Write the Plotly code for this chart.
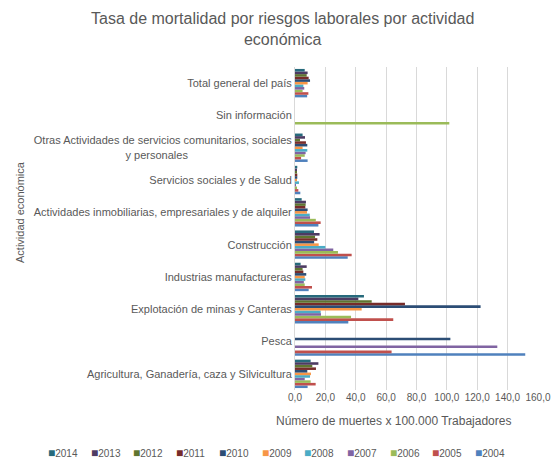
import plotly.graph_objects as go

categories = [
    "Agricultura, Ganadería, caza y Silvicultura",
    "Pesca",
    "Explotación de minas y Canteras",
    "Industrias manufactureras",
    "Construcción",
    "Actividades inmobiliarias, empresariales y de alquiler",
    "Servicios sociales y de Salud",
    "Otras Actividades de servicios comunitarios, sociales y personales",
    "Sin información",
    "Total general del país",
]

years = ["2004", "2005", "2006", "2007", "2008", "2009", "2010", "2011", "2012", "2013", "2014"]

v2004 = [8.3, 151.6, 35.1, 9.0, 34.7, 15.4, 3.5, 8.3, 0, 8.0]
v2005 = [13.6, 63.6, 64.7, 11.2, 37.3, 16.9, 2.2, 4.0, 0, 8.8]
v2006 = [10.3, 0, 36.9, 6.4, 28.3, 13.7, 1.3, 6.4, 101.6, 5.0]
v2007 = [6.4, 133.2, 17.1, 5.8, 25.2, 9.9, 0.4, 7.0, 0, 6.1]
v2008 = [9.9, 0, 16.9, 6.8, 20.0, 9.7, 2.6, 8.1, 0, 5.5]
v2009 = [10.5, 0, 43.9, 6.4, 15.6, 7.9, 1.0, 5.0, 0, 8.3]
v2010 = [8.1, 102.3, 122.2, 7.4, 12.6, 8.3, 1.5, 8.1, 0, 9.9]
v2011 = [13.8, 0, 72.4, 5.5, 14.7, 6.8, 1.5, 7.2, 0, 9.0]
v2012 = [11.4, 0, 50.5, 5.0, 13.2, 7.0, 0.7, 3.3, 0, 7.7]
v2013 = [15.4, 0, 41.7, 7.7, 16.2, 7.2, 0.7, 6.6, 0, 8.3]
v2014 = [10.3, 0, 45.4, 3.7, 12.5, 4.4, 1.5, 5.0, 0, 6.4]

series = [v2004, v2005, v2006, v2007, v2008, v2009, v2010, v2011, v2012, v2013, v2014]
colors = ["#4F81BD", "#C0504D", "#9BBB59", "#8064A2", "#4BACC6", "#F79646",
          "#2C4D75", "#772C2A", "#5F7530", "#4D3B62", "#276A7C"]

tickvals = [0, 20, 40, 60, 80, 100, 120, 140, 160]

# displayed tick text (second line of the long label centred under the first)
ticktext = list(categories)
ticktext[7] = ("Otras Actividades de servicios comunitarios, sociales<br>"
               "y personales" + "\u00a0" * 34)

fig = go.Figure()
for yr, vals, c in zip(years, series, colors):
    fig.add_trace(go.Bar(y=categories, x=vals, name=yr, orientation="h",
                         marker=dict(color=c, line=dict(width=0))))

gray = "#595959"
W, H = 553, 459
L, R, T, B = 295, 15, 67, 69
pw, ph = W - L - R, H - T - B


def px_x(px):
    return (px - L) / pw


def px_y(py):
    return (H - B - py) / ph


annotations = [
    dict(text="Tasa de mortalidad por riesgos laborales por actividad<br>económica",
         xref="paper", yref="paper", x=px_x(282), y=px_y(29),
         xanchor="center", yanchor="middle", showarrow=False,
         font=dict(size=16, color=gray)),
    dict(text="Número de muertes x 100.000 Trabajadores", xref="paper", yref="paper",
         x=px_x(393), y=px_y(421), xanchor="center", yanchor="middle",
         showarrow=False, font=dict(size=12, color=gray)),
    dict(text="Actividad económica", xref="paper", yref="paper",
         x=px_x(20), y=px_y(212), xanchor="center", yanchor="middle",
         textangle=-90, showarrow=False, font=dict(size=11, color=gray)),
]

# custom single-row legend (2014 first, as in the reference)
leg_years = list(reversed(years))
leg_colors = list(reversed(colors))
for i, (yr, c) in enumerate(zip(leg_years, leg_colors)):
    annotations.append(dict(
        text=f"<span style='color:{c};font-size:12px'>■</span>{yr}",
        xref="paper", yref="paper", x=px_x(46 + i * 42.7), y=px_y(453),
        xanchor="left", yanchor="middle", showarrow=False,
        font=dict(size=10, color=gray)))

fig.update_layout(
    width=W, height=H,
    margin=dict(l=L, r=R, t=T, b=B),
    barmode="group", bargap=0.12, bargroupgap=0,
    separators=",.",
    showlegend=False,
    paper_bgcolor="white", plot_bgcolor="white",
    font=dict(family="Liberation Sans, Arial", size=10, color=gray),
    xaxis=dict(range=[0, 160], tickvals=tickvals, tickformat=".1f",
               showgrid=True, gridcolor="#D9D9D9", gridwidth=1,
               zeroline=False, showline=False, ticks="", automargin=False,
               tickfont=dict(size=10, color=gray)),
    yaxis=dict(showgrid=False, showline=True, linecolor="#D9D9D9", ticks="",
               automargin=False, tickmode="array", tickvals=categories,
               ticktext=ticktext,
               tickfont=dict(size=11, color=gray), ticksuffix=" "),
    annotations=annotations,
)

fig.write_html("out.html", config={"displayModeBar": False},
               post_script="document.body.style.margin='0';")
